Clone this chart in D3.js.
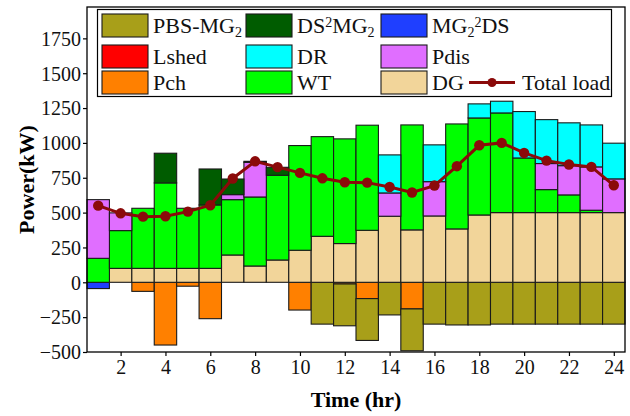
<!DOCTYPE html>
<html>
<head>
<meta charset="utf-8">
<script src="https://cdn.jsdelivr.net/npm/d3@7/dist/d3.min.js"></script>
<style>
  html, body { margin: 0; padding: 0; background: #fff; }
  svg { display: block; font-family: "Liberation Serif", "Times New Roman", serif; }
</style>
</head>
<body>
<svg id="chart" width="630" height="416"></svg>
<script>
// Hourly power balance (kW)
const hours = d3.range(1, 25);

const dg     = [0, 100, 100, 100, 100, 100, 196, 117, 160, 230, 330, 278, 373, 474, 376, 476, 383, 483, 500, 500, 500, 500, 500, 500];
const wt     = [172, 271, 431, 613, 431, 455, 397, 495, 608, 751, 715, 751, 754, 0, 753, 0, 753, 696, 715, 392, 165, 127, 17, 0];
const pdis   = [421, 127, 0, 0, 0, 0, 36, 249, 0, 0, 0, 0, 0, 167, 0, 246, 0, 0, 0, 0, 187, 210, 311, 242];
const ds2mg2 = [0, 0, 0, 213, 0, 258, 112, 7, 57, 0, 0, 0, 0, 0, 0, 0, 0, 0, 0, 0, 0, 0, 0, 0];
const dr     = [0, 0, 0, 0, 0, 0, 0, 0, 0, 0, 0, 0, 0, 273, 0, 264, 0, 101, 84, 333, 315, 307, 301, 256];
const lshed  = [0, 0, 0, 0, 0, 0, 0, 0, 0, 0, 0, 0, 0, 0, 0, 0, 0, 0, 0, 0, 0, 0, 0, 0];
const mg22ds = [-45, 0, 0, 0, 0, 0, 0, 0, 0, 0, 0, 0, 0, 0, 0, 0, 0, 0, 0, 0, 0, 0, 0, 0];
const pch    = [0, 0, -65, -450, -28, -261, 0, 0, 0, -199, 0, -12, -117, 0, -191, 0, 0, 0, 0, 0, 0, 0, 0, 0];
const pbs    = [0, 0, 0, 0, 0, 0, 0, 0, 0, 0, -300, -300, -300, -234, -300, -300, -306, -306, -300, -300, -300, -300, -300, -300];
const totalLoad = [550, 495, 471, 474, 507, 553, 745, 868, 826, 785, 746, 718, 715, 684, 644, 694, 833, 983, 1000, 928, 873, 845, 828, 696];

const yTicks = [-500, -250, 0, 250, 500, 750, 1000, 1250, 1500, 1750];
const xTicks = [2, 4, 6, 8, 10, 12, 14, 16, 18, 20, 22, 24];

// stacking order: negatives grow downward from zero, positives upward
const seriesDefs = [
  { key: "mg22ds", values: mg22ds, color: "#1f3fff" },
  { key: "pch",    values: pch,    color: "#ff8000" },
  { key: "pbs",    values: pbs,    color: "#a89f19" },
  { key: "dg",     values: dg,     color: "#f2d59a" },
  { key: "wt",     values: wt,     color: "#00ff00" },
  { key: "pdis",   values: pdis,   color: "#e06eff" },
  { key: "ds2mg2", values: ds2mg2, color: "#005c00" },
  { key: "dr",     values: dr,     color: "#00ffff" },
  { key: "lshed",  values: lshed,  color: "#ff0000" }
];
const colorOf = Object.fromEntries(seriesDefs.map(s => [s.key, s.color]));

const rows = hours.map((h, i) => {
  const r = { hour: h };
  seriesDefs.forEach(s => { r[s.key] = s.values[i]; });
  return r;
});

const stack = d3.stack()
  .keys(seriesDefs.map(s => s.key))
  .offset(d3.stackOffsetDiverging);
const layers = stack(rows);

const svg = d3.select("#chart");
const plot = { left: 87, right: 625, top: 7, bottom: 352 };

const x = d3.scaleLinear().domain([0.5, 24.5]).range([plot.left, plot.right]);
const y = d3.scaleLinear().domain([-500, 1975]).range([plot.bottom, plot.top]);

// bars
const g = svg.append("g");
layers.forEach(layer => {
  g.append("g")
    .attr("fill", colorOf[layer.key])
    .selectAll("rect")
    .data(layer.filter(d => d[1] - d[0] !== 0))
    .join("rect")
    .attr("x", d => x(d.data.hour - 0.5))
    .attr("width", d => x(d.data.hour + 0.5) - x(d.data.hour - 0.5))
    .attr("y", d => y(Math.max(d[0], d[1])))
    .attr("height", d => Math.abs(y(d[0]) - y(d[1])))
    .attr("stroke", "#1a1a1a")
    .attr("stroke-width", 1.1);
});

// total load line
const line = d3.line().x((d, i) => x(hours[i])).y(d => y(d));
svg.append("path")
  .datum(totalLoad)
  .attr("fill", "none")
  .attr("stroke", "#8b0a0a")
  .attr("stroke-width", 3)
  .attr("d", line);
svg.append("g")
  .selectAll("circle")
  .data(totalLoad)
  .join("circle")
  .attr("cx", (d, i) => x(hours[i]))
  .attr("cy", d => y(d))
  .attr("r", 5.2)
  .attr("fill", "#8b0a0a");

// axes
const xAxis = d3.axisBottom(x).tickValues(xTicks).tickSize(4).tickPadding(4).tickFormat(d3.format("d"));
const yAxis = d3.axisLeft(y).tickValues(yTicks).tickSize(4).tickPadding(2).tickFormat(d3.format("d"));

const gx = svg.append("g").attr("transform", `translate(0,${plot.bottom})`).call(xAxis);
const gy = svg.append("g").attr("transform", `translate(${plot.left},0)`).call(yAxis);
[gx, gy].forEach(a => {
  a.select(".domain").remove();
  a.selectAll(".tick line").attr("stroke", "#000").attr("stroke-width", 1.2);
  a.selectAll(".tick text")
    .attr("fill", "#111")
    .style("font-family", "Liberation Serif, serif")
    .style("font-size", "20px");
});
gy.selectAll(".tick text").attr("dy", "0.34em");

// frame
svg.append("rect")
  .attr("x", plot.left).attr("y", plot.top)
  .attr("width", plot.right - plot.left).attr("height", plot.bottom - plot.top)
  .attr("fill", "none").attr("stroke", "#000").attr("stroke-width", 1.3);

// axis titles
svg.append("text")
  .attr("x", (plot.left + plot.right) / 2).attr("y", 407)
  .attr("text-anchor", "middle")
  .style("font-weight", "bold").style("font-size", "22px")
  .text("Time (hr)");
svg.append("text")
  .attr("transform", `translate(34,${(plot.top + plot.bottom) / 2}) rotate(-90)`)
  .attr("text-anchor", "middle")
  .style("font-weight", "bold").style("font-size", "22px")
  .text("Power(kW)");

// legend
const legendItems = [
  { key: "pbs",    col: 0, row: 0, parts: [["PBS-MG"], ["2", "sub"]] },
  { key: "ds2mg2", col: 1, row: 0, parts: [["DS"], ["2", "sup"], ["MG"], ["2", "sub"]] },
  { key: "mg22ds", col: 2, row: 0, parts: [["MG"], ["2", "sub"], ["2", "sup"], ["DS"]] },
  { key: "lshed",  col: 0, row: 1, parts: [["Lshed"]] },
  { key: "dr",     col: 1, row: 1, parts: [["DR"]] },
  { key: "pdis",   col: 2, row: 1, parts: [["Pdis"]] },
  { key: "pch",    col: 0, row: 2, parts: [["Pch"]] },
  { key: "wt",     col: 1, row: 2, parts: [["WT"]] },
  { key: "dg",     col: 2, row: 2, parts: [["DG"]] }
];
const colX = [102, 246, 381];
const rowY = [14, 45, 71];
const swW = 46, swH = 23;

const lg = svg.append("g");
lg.append("rect")
  .attr("x", 97.5).attr("y", 9.5).attr("width", 514).attr("height", 87)
  .attr("fill", "#fff").attr("stroke", "#000").attr("stroke-width", 1.2);

legendItems.forEach(it => {
  const sx = colX[it.col], sy = rowY[it.row];
  lg.append("rect")
    .attr("x", sx).attr("y", sy).attr("width", swW).attr("height", swH)
    .attr("fill", colorOf[it.key]).attr("stroke", "#1a1a1a").attr("stroke-width", 1.1);
  const t = lg.append("text")
    .attr("x", sx + swW + 5).attr("y", sy + swH / 2 + 7.5)
    .style("font-size", "22px").attr("fill", "#111");
  it.parts.forEach(([txt, kind]) => {
    const ts = t.append("tspan").text(txt);
    if (kind === "sub") ts.style("font-size", "14px").attr("baseline-shift", "-30%");
    if (kind === "sup") ts.style("font-size", "14px").attr("baseline-shift", "45%");
  });
});

// legend entry for the load line
const ly = rowY[2] + swH / 2;
lg.append("line")
  .attr("x1", 469).attr("x2", 515).attr("y1", ly).attr("y2", ly)
  .attr("stroke", "#8b0a0a").attr("stroke-width", 3);
lg.append("circle").attr("cx", 492).attr("cy", ly).attr("r", 4.5).attr("fill", "#8b0a0a");
lg.append("text")
  .attr("x", 522).attr("y", ly + 7.5)
  .style("font-size", "22px").attr("fill", "#111")
  .text("Total load");
</script>
</body>
</html>
